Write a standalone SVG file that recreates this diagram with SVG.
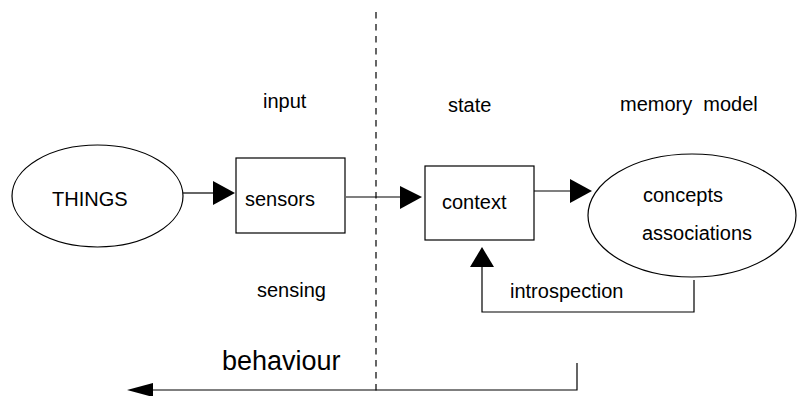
<svg xmlns="http://www.w3.org/2000/svg" width="797" height="396" viewBox="0 0 797 396">
<style>
text{font-family:"Liberation Sans",Arial,sans-serif;font-size:20px;fill:#000}
.shape{fill:#fff;stroke:#000;stroke-width:1.2}
.line{fill:none;stroke:#000;stroke-width:1.2}
.head{fill:#000;stroke:none}
</style>
<rect width="797" height="396" fill="#fff"/>
<line x1="376" y1="12" x2="376" y2="396" stroke="#000" stroke-width="1.2" stroke-dasharray="6.5 5.5"/>
<g id="label-input"><text x="263" y="108">input</text></g>
<g id="label-state"><text x="448" y="112">state</text></g>
<g id="label-memory-model"><text x="620" y="111" xml:space="preserve" style="white-space:pre">memory  model</text></g>
<g id="label-sensing"><text x="257" y="297">sensing</text></g>
<g id="things"><ellipse class="shape" cx="97.5" cy="196" rx="85.5" ry="51"/><text x="52" y="206">THINGS</text></g>
<g id="sensors"><rect class="shape" x="236" y="158" width="109" height="75"/><text x="245" y="206">sensors</text></g>
<g id="context"><rect class="shape" x="425" y="166" width="109" height="74"/><text x="442" y="209">context</text></g>
<g id="memory"><ellipse class="shape" cx="692" cy="215.5" rx="104" ry="61.5"/><text x="643" y="202">concepts</text><text x="642" y="240">associations</text></g>
<g id="connectors">
<line class="line" x1="183" y1="193" x2="214" y2="193"/>
<polygon class="head" points="213,181 235,193 213,205"/>
<line class="line" x1="346" y1="197" x2="401" y2="197"/>
<polygon class="head" points="400,186 422,197 400,209"/>
<line class="line" x1="534" y1="191" x2="571" y2="191"/>
<polygon class="head" points="570,179 592,191 570,203"/>
<polyline class="line" points="694,280 694,312 482,312 482,266"/>
<polygon class="head" points="470,267 482,247 494,267"/>
<text x="510" y="298">introspection</text>
<polyline class="line" points="577,363 577,390 152,390"/>
<polygon class="head" points="153,383 127,390 153,397"/>
<text x="222" y="370" style="font-size:27px">behaviour</text>
</g>
</svg>
